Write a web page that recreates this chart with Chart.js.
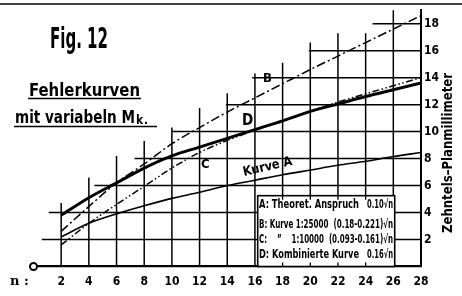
<!DOCTYPE html>
<html>
<head>
<meta charset="utf-8">
<script src="https://cdn.jsdelivr.net/npm/chart.js@4"></script>
<style>
  html, body { margin: 0; padding: 0; background: #fff; }
</style>
</head>
<body>
<canvas id="myChart" width="462" height="296"></canvas>
<script>
// values (tenths of a map millimetre against n)
const nValues = [2, 4, 6, 8, 10, 12, 14, 16, 18, 20, 22, 24, 26, 28];
const kurveA = [2.2, 3.2, 3.9, 4.5, 5.05, 5.5, 6.0, 6.4, 6.8, 7.15, 7.5, 7.8, 8.15, 8.45];
const kurveB = [2.6, 4.45, 6.2, 7.6, 9.1, 10.3, 11.45, 12.5, 13.55, 14.6, 15.6, 16.6, 17.6, 18.6];
const kurveC = [1.6, 3.2, 4.6, 5.95, 7.3, 8.45, 9.35, 10.1, 10.8, 11.5, 12.2, 12.8, 13.4, 14.0];
const kurveD = [3.8, 5.1, 6.2, 7.3, 8.2, 8.85, 9.5, 10.15, 10.8, 11.5, 12.05, 12.6, 13.1, 13.6];

const xTicks = [2, 4, 6, 8, 10, 12, 14, 16, 18, 20, 22, 24, 26, 28];
const yTicks = [2, 4, 6, 8, 10, 12, 14, 16, 18];

const legendLines = [
  ["A: Theoret. Anspruch", "0.10\u221An"],
  ["B: Kurve 1:25000  (0.18-0.221)\u221An", ""],
  ["C:    \u201D    1:10000  (0.093-0.161)\u221An", ""],
  ["D: Kombinierte Kurve", "0.16\u221An"],
];

const narrow = "'Liberation Sans Narrow', 'DejaVu Sans Condensed', 'Roboto', sans-serif";

// stair-step grid: vertical lines stop at a top value, horizontal ones start at some n
const gridCols = [[2, 4.7], [4, 6.6], [6, 8.2], [8, 9.3], [10, 10.3], [12, 11.75], [14, 12.85],
  [16, 14.3], [18, 15.1], [20, 16.6], [22, 17.3], [24, 17.3], [26, 19]];
const gridRows = [[2, 0.6], [4, 1.1], [6, 4.4], [8, 7.3], [10, 10], [12, 13.9], [14, 15.8],
  [16, 19.9], [18, 24.5]];

const sketch = {
  id: "sketch",
  beforeDatasetsDraw(chart) {
    const { ctx, scales: { x, y } } = chart;
    ctx.save();
    ctx.strokeStyle = "#000";
    ctx.lineWidth = 1.5;
    ctx.beginPath();
    gridCols.forEach(([n, top]) => {
      const px = x.getPixelForValue(n);
      ctx.moveTo(px, y.getPixelForValue(0));
      ctx.lineTo(px, y.getPixelForValue(top));
    });
    gridRows.forEach(([v, start]) => {
      const py = y.getPixelForValue(v);
      ctx.moveTo(x.getPixelForValue(start), py);
      ctx.lineTo(x.getPixelForValue(28), py);
    });
    ctx.stroke();

    // legend box covers the grid, with small stubs left
    const bx0 = x.getPixelForValue(16.2), bx1 = x.getPixelForValue(26.1);
    const by0 = y.getPixelForValue(5.25), by1 = y.getPixelForValue(0);
    ctx.fillStyle = "#fff";
    ctx.fillRect(bx0, by0, bx1 - bx0, by1 - by0);
    ctx.lineWidth = 1.6;
    ctx.strokeRect(bx0, by0, bx1 - bx0, by1 - by0);
    ctx.lineWidth = 1.3;
    ctx.beginPath();
    [18, 20, 22, 24].forEach((n) => {
      const px = x.getPixelForValue(n);
      ctx.moveTo(px, by0);
      ctx.lineTo(px, by0 + 4);
      ctx.moveTo(px, by1);
      ctx.lineTo(px, by1 - 4);
    });
    ctx.stroke();
    ctx.restore();
  },
  afterDraw(chart) {
    const { ctx, scales: { x, y } } = chart;
    ctx.save();
    ctx.fillStyle = "#000";
    ctx.strokeStyle = "#000";

    // top border
    ctx.lineWidth = 1.5;
    ctx.beginPath();
    ctx.moveTo(0, 4);
    ctx.lineTo(462, 4);
    ctx.stroke();

    // origin circle
    ctx.lineWidth = 2;
    ctx.fillStyle = "#fff";
    ctx.beginPath();
    ctx.arc(x.getPixelForValue(0), y.getPixelForValue(0), 3.5, 0, Math.PI * 2);
    ctx.fill();
    ctx.stroke();
    ctx.fillStyle = "#000";

    ctx.textBaseline = "alphabetic";
    ctx.font = "bold 13px 'DejaVu Serif', serif";
    ctx.fillText("n :", 10, 285);

    // titles
    ctx.font = "bold 28px " + narrow;
    ctx.fillText("Fig. 12", 50, 48, 58);
    ctx.font = "bold 18px " + narrow;
    ctx.fillText("Fehlerkurven", 29, 96, 111);
    ctx.font = "bold 17px " + narrow;
    ctx.fillText("mit variabeln M", 15, 123, 120);
    const wM = Math.min(ctx.measureText("mit variabeln M").width, 120);
    ctx.font = "bold 12px " + narrow;
    ctx.fillText("k", 15 + wM + 1, 124);
    ctx.fillText(".", 15 + wM + 9, 124);
    ctx.lineWidth = 1.6;
    ctx.beginPath();
    ctx.moveTo(28, 98.5); ctx.lineTo(141, 98.5);
    ctx.moveTo(14, 126.5); ctx.lineTo(157, 126.5);
    ctx.stroke();

    // curve labels
    ctx.font = "bold 13px " + narrow;
    ctx.fillText("B", 263, 82);
    ctx.fillText("C", 201, 168);
    ctx.font = "bold 15px " + narrow;
    ctx.fillText("D", 242, 125);
    ctx.save();
    ctx.translate(244, 176);
    ctx.rotate(-13 * Math.PI / 180);
    ctx.font = "bold 13px " + narrow;
    ctx.fillText("Kurve A", 0, 0, 50);
    ctx.restore();

    // legend text
    ctx.font = "bold 12px " + narrow;
    const baselines = [208, 228, 242.5, 258];
    legendLines.forEach(([left, right], i) => {
      if (right) {
        ctx.fillText(left, 259, baselines[i], 100);
        ctx.fillText(right, 367, baselines[i], 26);
      } else {
        ctx.fillText(left, 259, baselines[i], 134);
      }
    });

    // vertical axis title
    ctx.save();
    ctx.translate(452, 233);
    ctx.rotate(-Math.PI / 2);
    ctx.font = "bold 14px " + narrow;
    ctx.fillText("Zehntels\u2013Planmillimeter", 0, 0, 160);
    ctx.restore();
    ctx.restore();
  },
};

const ctx = document.getElementById("myChart").getContext("2d");
Chart.defaults.color = "#000";

const makeLine = (label, data, width, dash) => ({
  label: label,
  data: data.map((v, i) => ({ x: nValues[i], y: v })),
  borderColor: "#000",
  borderWidth: width,
  borderDash: dash,
  pointRadius: 0,
  fill: false,
  cubicInterpolationMode: "monotone",
});

new Chart(ctx, {
  type: "line",
  data: {
    datasets: [
      makeLine("A", kurveA, 1.6, []),
      makeLine("B", kurveB, 1.5, [9, 3, 2, 3]),
      makeLine("C", kurveC, 1.5, [7, 2.5, 1.5, 2.5, 1.5, 2.5]),
      makeLine("D", kurveD, 3, []),
    ],
  },
  options: {
    responsive: false,
    animation: false,
    layout: { padding: { left: 33.5, top: 8, right: 0, bottom: 0 } },
    plugins: { legend: { display: false }, tooltip: { enabled: false } },
    scales: {
      x: {
        type: "linear",
        min: 0,
        max: 28,
        grid: { display: false, drawTicks: false },
        border: { display: true, color: "#000", width: 2.2 },
        afterBuildTicks: (s) => { s.ticks = xTicks.map((v) => ({ value: v })); },
        afterFit: (s) => { s.height = 29.5; },
        ticks: { padding: 8, maxRotation: 0, font: { family: narrow, size: 12, weight: "bold" } },
      },
      y: {
        position: "right",
        min: 0,
        max: 19,
        grid: { display: false, drawTicks: false },
        border: { display: true, color: "#000", width: 2 },
        afterBuildTicks: (s) => { s.ticks = yTicks.map((v) => ({ value: v })); },
        afterFit: (s) => { s.width = 41; },
        ticks: { padding: 3, font: { family: narrow, size: 12, weight: "bold" } },
      },
    },
  },
  plugins: [sketch],
});
</script>
</body>
</html>
